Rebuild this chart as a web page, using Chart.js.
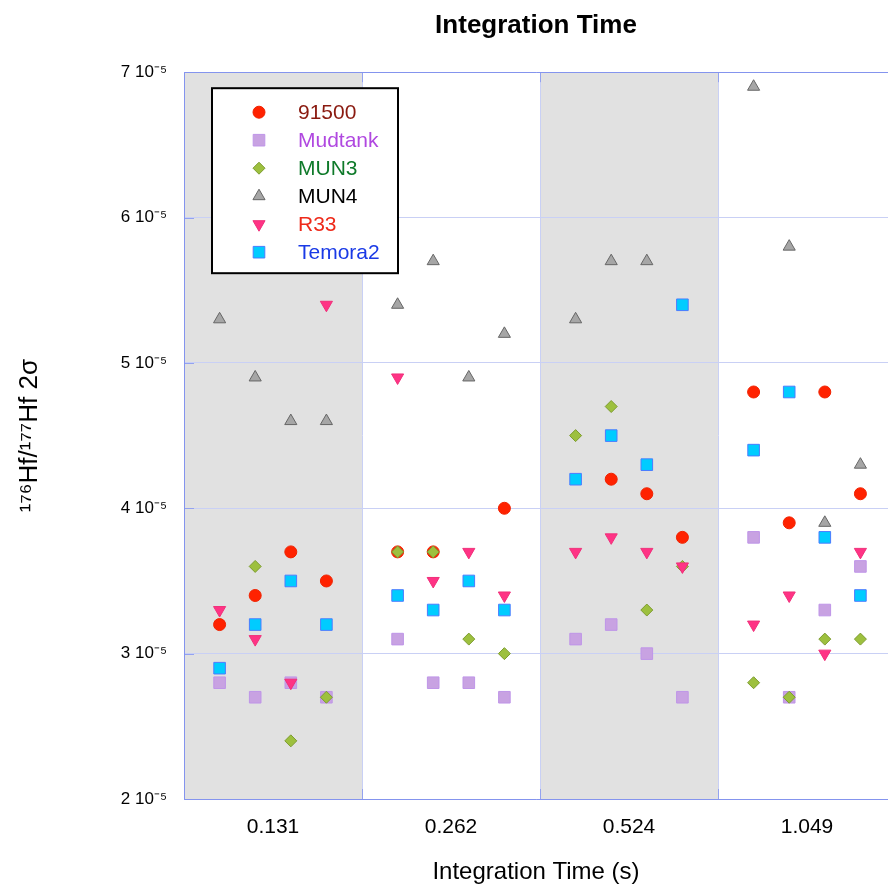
<!DOCTYPE html>
<html>
<head>
<meta charset="utf-8">
<script src="https://cdn.jsdelivr.net/npm/chart.js@4.4.1/dist/chart.umd.min.js"></script>
<style>
html,body{margin:0;padding:0;background:#fff;overflow:hidden}
#wrap{width:888px;height:890px;position:relative}
</style>
</head>
<body>
<div id="wrap"><canvas id="c" width="888" height="890"></canvas></div>
<script>
// ---- data ----
const categories = ['0.131', '0.262', '0.524', '1.049'];
const seriesNames = ['91500', 'Mudtank', 'MUN3', 'MUN4', 'R33', 'Temora2'];
// four analyses per integration time (16 values per series)
const v91500   = [3.2e-5, 3.4e-5, 3.7e-5, 3.5e-5,  3.7e-5, 3.7e-5, null,   4.0e-5,  null,   4.2e-5, 4.1e-5, 3.8e-5,  4.8e-5, 3.9e-5, 4.8e-5, 4.1e-5];
const vMudtank = [2.8e-5, 2.7e-5, 2.8e-5, 2.7e-5,  3.1e-5, 2.8e-5, 2.8e-5, 2.7e-5,  3.1e-5, 3.2e-5, 3.0e-5, 2.7e-5,  3.8e-5, 2.7e-5, 3.3e-5, 3.6e-5];
const vMUN3    = [null,   3.6e-5, 2.4e-5, 2.7e-5,  3.7e-5, 3.7e-5, 3.1e-5, 3.0e-5,  4.5e-5, 4.7e-5, 3.3e-5, 3.6e-5,  2.8e-5, 2.7e-5, 3.1e-5, 3.1e-5];
const vMUN4    = [5.3e-5, 4.9e-5, 4.6e-5, 4.6e-5,  5.4e-5, 5.7e-5, 4.9e-5, 5.2e-5,  5.3e-5, 5.7e-5, 5.7e-5, null,    6.9e-5, 5.8e-5, 3.9e-5, 4.3e-5];
const vR33     = [3.3e-5, 3.1e-5, 2.8e-5, 5.4e-5,  4.9e-5, 3.5e-5, 3.7e-5, 3.4e-5,  3.7e-5, 3.8e-5, 3.7e-5, 3.6e-5,  3.2e-5, 3.4e-5, 3.0e-5, 3.7e-5];
const vTemora2 = [2.9e-5, 3.2e-5, 3.5e-5, 3.2e-5,  3.4e-5, 3.3e-5, 3.5e-5, 3.3e-5,  4.2e-5, 4.5e-5, 4.3e-5, 5.4e-5,  4.4e-5, 4.8e-5, 3.8e-5, 3.4e-5];
const yTickValues = [2e-5, 3e-5, 4e-5, 5e-5, 6e-5, 7e-5];
const yTickLabels = ['2 10⁻⁵', '3 10⁻⁵', '4 10⁻⁵', '5 10⁻⁵', '6 10⁻⁵', '7 10⁻⁵'];
const seriesValues = [v91500, vMudtank, vMUN3, vMUN4, vR33, vTemora2];

// ---- styles ----
const FAMILY = "'Liberation Sans', Arial, sans-serif";
const X_MAX = 3.955;           // visible part of the 4th group
const PER_GROUP = 4;
const styles = [
  {pointStyle: 'circle',   radius: 6,   rotation: 0,   bg: '#ff2200', border: '#f02200', text: '#8a1a10'},
  {pointStyle: 'rect',     radius: 8.2, rotation: 0,   bg: '#c8a2e2', border: '#bf95e8', text: '#b048e0'},
  {pointStyle: 'rectRot',  radius: 6,   rotation: 0,   bg: '#9dc03e', border: '#7d9c30', text: '#0f7a2a'},
  {pointStyle: 'triangle', radius: 7,   rotation: 0,   bg: '#a6a6a6', border: '#666666', text: '#000000'},
  {pointStyle: 'triangle', radius: 7,   rotation: 180, bg: '#ff3385', border: '#f0307a', text: '#ee2a1a'},
  {pointStyle: 'rect',     radius: 8.2, rotation: 0,   bg: '#00ccff', border: '#4a7cff', text: '#1a3ae6'}
];

Chart.defaults.font.family = FAMILY;

const datasets = seriesNames.map((name, i) => ({
  label: name,
  data: seriesValues[i].map((v, j) => ({
    x: Math.floor(j / PER_GROUP) + ((j % PER_GROUP) + 1) / (PER_GROUP + 1),
    y: v
  })),
  pointStyle: styles[i].pointStyle,
  pointRadius: styles[i].radius,
  pointRotation: styles[i].rotation,
  backgroundColor: styles[i].bg,
  borderColor: styles[i].border,
  borderWidth: 1,
  showLine: false,
  order: seriesNames.length - 1 - i
}));

function seg(ctx, x1, y1, x2, y2) {
  ctx.beginPath(); ctx.moveTo(x1, y1); ctx.lineTo(x2, y2); ctx.stroke();
}

const decor = {
  id: 'decor',
  beforeDraw(chart) {
    const {ctx, chartArea: a, scales: {x}} = chart;
    ctx.save();
    ctx.fillStyle = '#e1e1e1';
    categories.forEach((c, i) => {
      if (i % 2 === 0) {
        const l = x.getPixelForValue(i);
        const r = Math.min(x.getPixelForValue(i + 1), a.right);
        ctx.fillRect(l, a.top, r - l, a.bottom - a.top);
      }
    });
    ctx.lineWidth = 1;
    for (let i = 1; i < categories.length; i++) {
      const px = Math.round(x.getPixelForValue(i)) + 0.5;
      ctx.strokeStyle = '#c9d0f5';
      seg(ctx, px, a.top, px, a.bottom);
      ctx.strokeStyle = '#93a2f0';
      seg(ctx, px, a.top, px, a.top + 10);
      seg(ctx, px, a.bottom - 10, px, a.bottom);
    }
    ctx.restore();
  },
  beforeDatasetsDraw(chart) {
    const {ctx, chartArea: a, scales: {y}} = chart;
    ctx.save();
    ctx.lineWidth = 1;
    ctx.strokeStyle = '#93a2f0';
    yTickValues.forEach(v => {
      const py = Math.round(y.getPixelForValue(v)) + 0.5;
      seg(ctx, a.left, py, a.left + 10, py);
    });
    ctx.strokeStyle = '#8494ee';
    const t = Math.round(a.top) + 0.5, b = Math.round(a.bottom) + 0.5, l = Math.round(a.left) + 0.5;
    seg(ctx, l, t, a.right, t);
    seg(ctx, l, b, a.right, b);
    seg(ctx, l, t, l, b);
    ctx.restore();
  },
  afterDatasetsDraw(chart) {
    const {ctx, chartArea: a} = chart;
    const left = a.left + 28, top = a.top + 16, w = 186, h = 185;
    ctx.save();
    ctx.fillStyle = '#ffffff';
    ctx.fillRect(left, top, w, h);
    ctx.lineWidth = 2;
    ctx.strokeStyle = '#000000';
    ctx.strokeRect(left, top, w, h);
    ctx.font = '21px ' + FAMILY;
    ctx.textBaseline = 'middle';
    ctx.textAlign = 'left';
    seriesNames.forEach((name, i) => {
      const cy = top + 24 + i * 28;
      ctx.fillStyle = styles[i].bg;
      ctx.strokeStyle = styles[i].border;
      ctx.lineWidth = 1;
      Chart.helpers.drawPoint(ctx, {
        pointStyle: styles[i].pointStyle,
        radius: styles[i].radius,
        rotation: styles[i].rotation,
        borderWidth: 1
      }, left + 47, cy);
      ctx.fillStyle = styles[i].text;
      ctx.fillText(name, left + 86, cy + 1);
    });
    ctx.restore();
  }
};

new Chart(document.getElementById('c'), {
  type: 'scatter',
  data: {datasets},
  options: {
    responsive: false,
    animation: false,
    events: [],
    layout: {padding: 0, autoPadding: false},
    plugins: {
      legend: {display: false},
      tooltip: {enabled: false},
      title: {
        display: true,
        text: 'Integration Time',
        fullSize: false,
        color: '#000',
        font: {size: 26, weight: 'bold', family: FAMILY},
        padding: {top: 10, bottom: 31}
      }
    },
    scales: {
      x: {
        type: 'linear',
        min: 0,
        max: X_MAX,
        afterBuildTicks: s => { s.ticks = categories.map((c, i) => ({value: i + 0.5})); },
        afterFit: s => { s.height = 91; s.paddingLeft = 0; s.paddingRight = 0; },
        ticks: {
          callback: (v, i) => categories[i],
          autoSkip: false,
          maxRotation: 0,
          color: '#000',
          font: {size: 21, family: FAMILY},
          padding: 16
        },
        grid: {display: false, drawTicks: false},
        border: {display: false},
        title: {
          display: true,
          text: 'Integration Time (s)',
          color: '#000',
          font: {size: 24, family: FAMILY},
          padding: {top: 0, bottom: 3}
        }
      },
      y: {
        type: 'linear',
        min: 2e-5,
        max: 7e-5,
        afterBuildTicks: s => { s.ticks = yTickValues.map(v => ({value: v})); },
        afterFit: s => { s.width = 184; s.paddingTop = 0; s.paddingBottom = 0; },
        ticks: {
          callback: (v, i) => yTickLabels[i],
          color: '#000',
          font: {size: 17, family: FAMILY},
          padding: 17
        },
        grid: {color: '#c9d0f5', lineWidth: 1, drawTicks: false},
        border: {display: false},
        title: {
          display: true,
          text: '¹⁷⁶Hf/¹⁷⁷Hf 2σ',
          color: '#000',
          font: {size: 26, family: FAMILY},
          padding: {top: 14, bottom: 0}
        }
      }
    }
  },
  plugins: [decor]
});
</script>
</body>
</html>
